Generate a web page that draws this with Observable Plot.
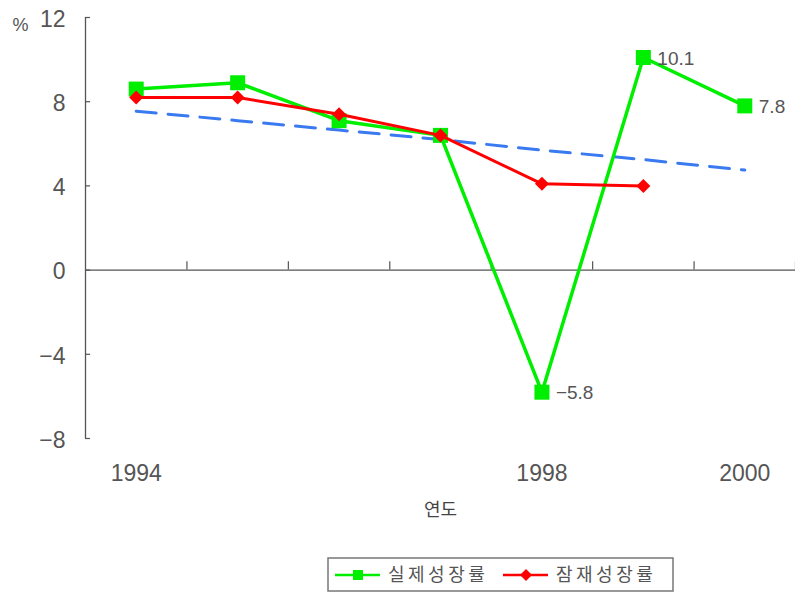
<!DOCTYPE html>
<html><head><meta charset="utf-8">
<script src="https://cdn.jsdelivr.net/npm/d3@7"></script>
<script src="https://cdn.jsdelivr.net/npm/@observablehq/plot@0.6"></script>
<style>
body{margin:0;background:#fff;font-family:"Liberation Sans","Noto Sans CJK KR",sans-serif;}
#wrap{position:relative;width:795px;height:596px;overflow:hidden;}
#legend{position:absolute;left:327px;top:557px;}
</style></head>
<body><div id="wrap"><div id="chart"></div><svg id="legend" width="348" height="36"></svg></div>
<script>
const years = [1994, 1995, 1996, 1997, 1998, 1999, 2000];
const actualGrowth = [8.6, 8.9, 7.1, 6.4, -5.8, 10.1, 7.8];
const potentialYears = [1994, 1995, 1996, 1997, 1998, 1999];
const potentialGrowth = [8.2, 8.2, 7.4, 6.4, 4.1, 4.0];
const trendGrowth = [7.55, 7.1, 6.65, 6.2, 5.7, 5.25, 4.75];
const xTickLabels = [1994, 1998, 2000];
const yTicks = [-8, -4, 0, 4, 8, 12];
const labeledYears = [1998, 1999, 2000];
const seriesNames = ["실제성장률", "잠재성장률"];
const xTitle = "연도";
const yUnit = "%";
const colors = {actual: "#00ee00", potential: "#ff0000", trend: "#3a7af0"};

const actual = years.map((y, i) => ({year: y, value: actualGrowth[i]}));
const potential = potentialYears.map((y, i) => ({year: y, value: potentialGrowth[i]}));
const trend = years.map((y, i) => ({year: y, value: trendGrowth[i]}));
const labels = actual.filter(d => labeledYears.includes(d.year));
const fmt = v => v < 0 ? "\u2212" + (-v) : String(v);

const xLo = years[0] - 0.5, xHi = years[years.length - 1] + 0.5;
const boundaries = d3.range(xLo + 1, xHi + 0.01, 1);

const squareSym = {draw(ctx, size) {const h = Math.sqrt(size / Math.PI); ctx.rect(-h, -h, 2 * h, 2 * h);}};
const diamondSym = {draw(ctx, size) {const h = Math.sqrt(size / Math.PI); ctx.moveTo(0, -h); ctx.lineTo(h, 0); ctx.lineTo(0, h); ctx.lineTo(-h, 0); ctx.closePath();}};

const chart = Plot.plot({
  width: 795, height: 548,
  marginLeft: 85, marginRight: 0, marginTop: 17, marginBottom: 110,
  x: {domain: [xLo, xHi]},
  y: {domain: [-8, 12]},
  style: {fontFamily: '"Liberation Sans","Noto Sans CJK KR",sans-serif', fontSize: "17px", color: "#555", background: "white"},
  marks: [
    Plot.ruleY([0], {stroke: "#555", strokeWidth: 1.3}),
    Plot.ruleX(boundaries, {x: d => d, y1: 0, y2: 0.4, stroke: "#555", strokeWidth: 1.2}),
    Plot.ruleX([xLo], {x: d => d, y1: -8, y2: 12, stroke: "#555", strokeWidth: 1.3}),
    Plot.ruleY(yTicks, {y: d => d, x1: xLo, x2: xLo + 0.05, stroke: "#555", strokeWidth: 1.2}),
    Plot.axisY({ticks: yTicks, tickSize: 0, tickPadding: 20, dy: 2, tickFormat: fmt, label: null, fontSize: 23}),
    Plot.axisX({ticks: xTickLabels, tickSize: 0, tickPadding: 26, tickFormat: d => String(d), label: null, fontSize: 23}),
    Plot.text([xTitle], {frameAnchor: "bottom", text: d => d, dy: 72, lineAnchor: "middle", fontSize: 18, fill: "#444", fontFamily: '"Noto Sans CJK KR",sans-serif'}),
    Plot.text([yUnit], {x: () => xLo, y: () => 12, text: d => d, dx: -65, dy: 8, fontSize: 18, fill: "#555"}),
    Plot.line(trend, {x: "year", y: "value", stroke: colors.trend, strokeWidth: 3, strokeDasharray: "20,12"}),
    Plot.line(actual, {x: "year", y: "value", stroke: colors.actual, strokeWidth: 3.5}),
    Plot.dot(actual, {x: "year", y: "value", symbol: squareSym, r: 7.5, fill: colors.actual, stroke: "none"}),
    Plot.line(potential, {x: "year", y: "value", stroke: colors.potential, strokeWidth: 3}),
    Plot.dot(potential, {x: "year", y: "value", symbol: diamondSym, r: 7, fill: colors.potential, stroke: "none"}),
    Plot.text(labels, {x: "year", y: "value", text: d => fmt(d.value), dx: 14, dy: 1, textAnchor: "start", fontSize: 19, fill: "#555"})
  ]
});
document.getElementById("chart").appendChild(chart);

// legend
const lg = d3.select("#legend");
lg.append("rect").attr("x", 1).attr("y", 1).attr("width", 345).attr("height", 33).attr("fill", "white").attr("stroke", "#777").attr("stroke-width", 1.5);
const items = [
  {name: seriesNames[0], color: colors.actual, sym: "square", x0: 8},
  {name: seriesNames[1], color: colors.potential, sym: "diamond", x0: 176}
];
items.forEach(it => {
  lg.append("line").attr("x1", it.x0).attr("x2", it.x0 + 45).attr("y1", 18).attr("y2", 18).attr("stroke", it.color).attr("stroke-width", 2.5);
  const cx = it.x0 + 23;
  if (it.sym === "square") lg.append("rect").attr("x", cx - 5).attr("y", 13).attr("width", 10).attr("height", 10).attr("fill", it.color);
  else lg.append("path").attr("d", `M${cx},12L${cx + 6},18L${cx},24L${cx - 6},18Z`).attr("fill", it.color);
  lg.append("text").attr("x", it.x0 + 53).attr("y", 24).attr("font-family", '"Noto Sans CJK KR",sans-serif').attr("font-size", 18).attr("letter-spacing", 3.5).attr("fill", "#555").text(it.name);
});
</script></body></html>
